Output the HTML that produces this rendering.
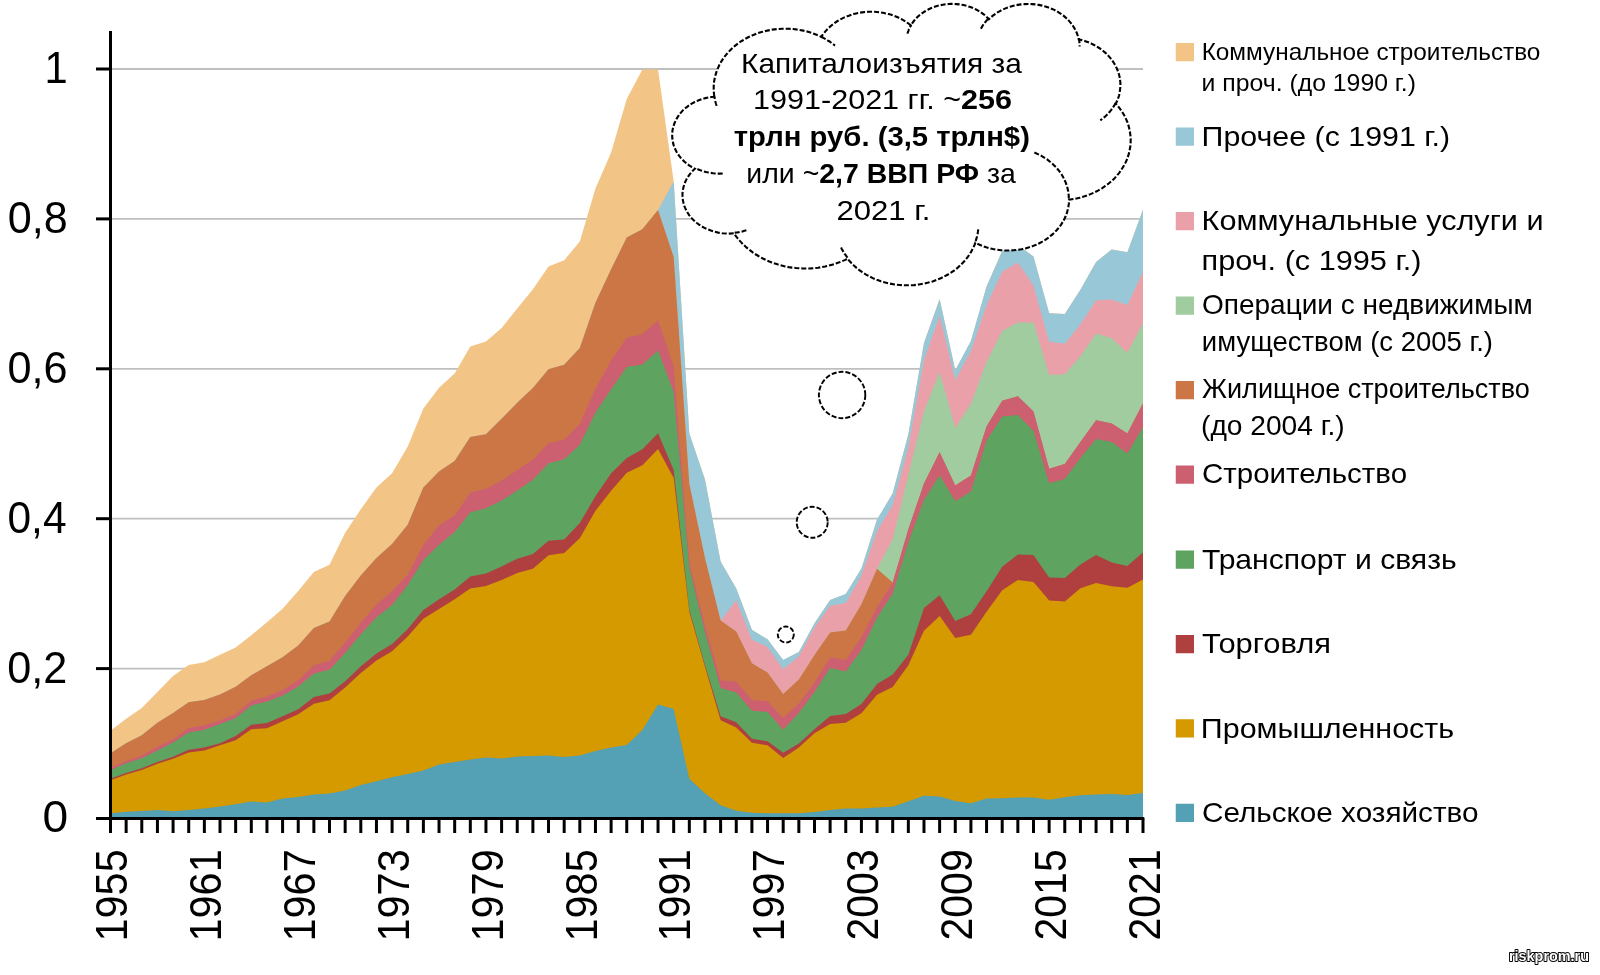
<!DOCTYPE html>
<html><head><meta charset="utf-8"><style>
html,body{margin:0;padding:0;background:#fff;width:1600px;height:975px;overflow:hidden}
svg{display:block;will-change:transform}
</style></head><body>
<svg width="1600" height="975" viewBox="0 0 1600 975">
<line x1="112" y1="668.60" x2="1143" y2="668.60" stroke="#BFBFBF" stroke-width="1.8"/>
<line x1="112" y1="518.70" x2="1143" y2="518.70" stroke="#BFBFBF" stroke-width="1.8"/>
<line x1="112" y1="368.80" x2="1143" y2="368.80" stroke="#BFBFBF" stroke-width="1.8"/>
<line x1="112" y1="218.90" x2="1143" y2="218.90" stroke="#BFBFBF" stroke-width="1.8"/>
<line x1="112" y1="69.00" x2="1143" y2="69.00" stroke="#BFBFBF" stroke-width="1.8"/>
<path d="M110.50,818.50 L110.50,730.80 L126.14,718.70 L141.79,708.00 L157.43,691.90 L173.08,676.00 L188.72,665.00 L204.36,662.20 L220.01,654.70 L235.65,647.40 L251.30,635.20 L266.94,622.20 L282.58,608.70 L298.23,591.00 L313.87,572.00 L329.52,564.80 L345.16,532.70 L360.80,509.20 L376.45,487.60 L392.09,473.30 L407.73,446.60 L423.38,408.50 L439.02,387.80 L454.67,373.60 L470.31,346.60 L485.95,341.60 L501.60,328.00 L517.24,308.50 L532.89,289.30 L548.53,266.60 L564.17,260.20 L579.82,241.50 L595.46,188.60 L611.11,152.50 L626.75,99.00 L642.39,69.50 L658.04,69.50 L673.68,181.50 L689.33,433.50 L704.97,479.50 L720.61,561.50 L736.26,588.50 L751.90,629.80 L767.55,639.30 L783.19,659.90 L798.83,652.00 L814.48,623.20 L830.12,600.10 L845.77,593.90 L861.41,568.50 L877.05,519.60 L892.70,493.30 L908.34,434.20 L923.98,343.00 L939.63,299.00 L955.27,370.30 L970.92,341.00 L986.56,286.50 L1002.20,251.00 L1017.85,245.00 L1033.49,256.50 L1049.14,313.20 L1064.78,314.00 L1080.42,289.70 L1096.07,262.00 L1111.71,249.50 L1127.36,252.30 L1143.00,209.40 L1143.00,818.50 Z" fill="#F2C486"/>
<path d="M110.50,818.50 L110.50,753.30 L126.14,743.20 L141.79,735.30 L157.43,722.80 L173.08,713.00 L188.72,702.20 L204.36,700.00 L220.01,694.60 L235.65,686.80 L251.30,675.30 L266.94,666.20 L282.58,657.20 L298.23,645.50 L313.87,628.00 L329.52,621.40 L345.16,596.00 L360.80,575.60 L376.45,558.00 L392.09,544.00 L407.73,524.70 L423.38,487.40 L439.02,471.50 L454.67,461.00 L470.31,437.00 L485.95,434.20 L501.60,418.80 L517.24,402.70 L532.89,388.00 L548.53,369.30 L564.17,364.80 L579.82,348.00 L595.46,302.70 L611.11,269.30 L626.75,237.60 L642.39,229.20 L658.04,210.10 L673.68,181.50 L689.33,433.50 L704.97,479.50 L720.61,561.50 L736.26,588.50 L751.90,629.80 L767.55,639.30 L783.19,659.90 L798.83,652.00 L814.48,623.20 L830.12,600.10 L845.77,593.90 L861.41,568.50 L877.05,519.60 L892.70,493.30 L908.34,434.20 L923.98,343.00 L939.63,299.00 L955.27,370.30 L970.92,341.00 L986.56,286.50 L1002.20,251.00 L1017.85,245.00 L1033.49,256.50 L1049.14,313.20 L1064.78,314.00 L1080.42,289.70 L1096.07,262.00 L1111.71,249.50 L1127.36,252.30 L1143.00,209.40 L1143.00,818.50 Z" fill="#98C8D8"/>
<path d="M110.50,818.50 L110.50,753.30 L126.14,743.20 L141.79,735.30 L157.43,722.80 L173.08,713.00 L188.72,702.20 L204.36,700.00 L220.01,694.60 L235.65,686.80 L251.30,675.30 L266.94,666.20 L282.58,657.20 L298.23,645.50 L313.87,628.00 L329.52,621.40 L345.16,596.00 L360.80,575.60 L376.45,558.00 L392.09,544.00 L407.73,524.70 L423.38,487.40 L439.02,471.50 L454.67,461.00 L470.31,437.00 L485.95,434.20 L501.60,418.80 L517.24,402.70 L532.89,388.00 L548.53,369.30 L564.17,364.80 L579.82,348.00 L595.46,302.70 L611.11,269.30 L626.75,237.60 L642.39,229.20 L658.04,210.10 L673.68,257.00 L689.33,484.00 L704.97,558.00 L720.61,620.50 L736.26,600.20 L751.90,639.70 L767.55,646.90 L783.19,669.20 L798.83,656.20 L814.48,627.50 L830.12,605.70 L845.77,602.90 L861.41,575.50 L877.05,531.00 L892.70,504.80 L908.34,447.40 L923.98,360.00 L939.63,316.00 L955.27,380.10 L970.92,351.00 L986.56,305.00 L1002.20,271.70 L1017.85,262.60 L1033.49,285.50 L1049.14,341.80 L1064.78,343.70 L1080.42,324.30 L1096.07,300.20 L1111.71,299.40 L1127.36,304.90 L1143.00,271.70 L1143.00,818.50 Z" fill="#EAA0A8"/>
<path d="M110.50,818.50 L110.50,753.30 L126.14,743.20 L141.79,735.30 L157.43,722.80 L173.08,713.00 L188.72,702.20 L204.36,700.00 L220.01,694.60 L235.65,686.80 L251.30,675.30 L266.94,666.20 L282.58,657.20 L298.23,645.50 L313.87,628.00 L329.52,621.40 L345.16,596.00 L360.80,575.60 L376.45,558.00 L392.09,544.00 L407.73,524.70 L423.38,487.40 L439.02,471.50 L454.67,461.00 L470.31,437.00 L485.95,434.20 L501.60,418.80 L517.24,402.70 L532.89,388.00 L548.53,369.30 L564.17,364.80 L579.82,348.00 L595.46,302.70 L611.11,269.30 L626.75,237.60 L642.39,229.20 L658.04,210.10 L673.68,257.00 L689.33,484.00 L704.97,558.00 L720.61,620.50 L736.26,631.50 L751.90,663.20 L767.55,672.50 L783.19,694.00 L798.83,679.50 L814.48,655.00 L830.12,632.50 L845.77,630.50 L861.41,604.30 L877.05,568.80 L892.70,539.30 L908.34,475.30 L923.98,411.30 L939.63,372.00 L955.27,428.00 L970.92,403.80 L986.56,361.90 L1002.20,331.10 L1017.85,322.40 L1033.49,322.40 L1049.14,375.00 L1064.78,374.20 L1080.42,356.20 L1096.07,333.50 L1111.71,338.20 L1127.36,352.80 L1143.00,322.90 L1143.00,818.50 Z" fill="#A0CCA0"/>
<path d="M110.50,818.50 L110.50,753.30 L126.14,743.20 L141.79,735.30 L157.43,722.80 L173.08,713.00 L188.72,702.20 L204.36,700.00 L220.01,694.60 L235.65,686.80 L251.30,675.30 L266.94,666.20 L282.58,657.20 L298.23,645.50 L313.87,628.00 L329.52,621.40 L345.16,596.00 L360.80,575.60 L376.45,558.00 L392.09,544.00 L407.73,524.70 L423.38,487.40 L439.02,471.50 L454.67,461.00 L470.31,437.00 L485.95,434.20 L501.60,418.80 L517.24,402.70 L532.89,388.00 L548.53,369.30 L564.17,364.80 L579.82,348.00 L595.46,302.70 L611.11,269.30 L626.75,237.60 L642.39,229.20 L658.04,210.10 L673.68,257.00 L689.33,484.00 L704.97,558.00 L720.61,620.50 L736.26,631.50 L751.90,663.20 L767.55,672.50 L783.19,694.00 L798.83,679.50 L814.48,655.00 L830.12,632.50 L845.77,630.50 L861.41,604.30 L877.05,568.80 L892.70,582.50 L908.34,529.40 L923.98,483.50 L939.63,452.30 L955.27,485.60 L970.92,475.40 L986.56,426.50 L1002.20,400.80 L1017.85,396.30 L1033.49,411.50 L1049.14,468.80 L1064.78,464.10 L1080.42,442.00 L1096.07,420.20 L1111.71,423.40 L1127.36,433.50 L1143.00,403.20 L1143.00,818.50 Z" fill="#CC7646"/>
<path d="M110.50,818.50 L110.50,767.60 L126.14,761.10 L141.79,755.40 L157.43,746.80 L173.08,739.60 L188.72,728.00 L204.36,725.20 L220.01,720.60 L235.65,714.10 L251.30,700.60 L266.94,696.60 L282.58,689.90 L298.23,680.30 L313.87,665.20 L329.52,660.70 L345.16,642.40 L360.80,622.70 L376.45,604.70 L392.09,591.20 L407.73,574.50 L423.38,545.00 L439.02,525.30 L454.67,515.40 L470.31,492.50 L485.95,488.80 L501.60,480.70 L517.24,470.10 L532.89,459.40 L548.53,443.30 L564.17,439.50 L579.82,424.00 L595.46,388.60 L611.11,360.60 L626.75,337.60 L642.39,334.20 L658.04,320.20 L673.68,366.50 L689.33,562.00 L704.97,625.50 L720.61,680.50 L736.26,681.70 L751.90,700.00 L767.55,701.30 L783.19,718.00 L798.83,703.50 L814.48,682.70 L830.12,657.30 L845.77,659.90 L861.41,637.30 L877.05,607.00 L892.70,582.50 L908.34,529.40 L923.98,483.50 L939.63,452.30 L955.27,485.60 L970.92,475.40 L986.56,426.50 L1002.20,400.80 L1017.85,396.30 L1033.49,411.50 L1049.14,468.80 L1064.78,464.10 L1080.42,442.00 L1096.07,420.20 L1111.71,423.40 L1127.36,433.50 L1143.00,403.20 L1143.00,818.50 Z" fill="#CC6070"/>
<path d="M110.50,818.50 L110.50,770.20 L126.14,763.30 L141.79,758.30 L157.43,750.40 L173.08,742.50 L188.72,732.40 L204.36,729.80 L220.01,724.10 L235.65,718.00 L251.30,705.50 L266.94,701.50 L282.58,695.60 L298.23,686.60 L313.87,673.50 L329.52,669.70 L345.16,653.00 L360.80,634.20 L376.45,617.30 L392.09,605.00 L407.73,585.00 L423.38,560.00 L439.02,544.80 L454.67,532.00 L470.31,512.20 L485.95,508.30 L501.60,500.50 L517.24,490.60 L532.89,479.80 L548.53,463.30 L564.17,459.30 L579.82,444.70 L595.46,412.60 L611.11,389.30 L626.75,366.90 L642.39,364.50 L658.04,350.60 L673.68,392.00 L689.33,568.00 L704.97,632.00 L720.61,688.10 L736.26,692.50 L751.90,710.70 L767.55,712.00 L783.19,729.80 L798.83,713.00 L814.48,692.00 L830.12,668.00 L845.77,671.40 L861.41,650.00 L877.05,617.50 L892.70,593.50 L908.34,542.60 L923.98,499.90 L939.63,475.30 L955.27,501.20 L970.92,491.50 L986.56,440.60 L1002.20,416.60 L1017.85,414.90 L1033.49,431.10 L1049.14,483.20 L1064.78,479.10 L1080.42,458.00 L1096.07,439.00 L1111.71,442.10 L1127.36,453.40 L1143.00,427.00 L1143.00,818.50 Z" fill="#5EA360"/>
<path d="M110.50,818.50 L110.50,778.80 L126.14,773.00 L141.79,768.30 L157.43,761.90 L173.08,756.80 L188.72,749.70 L204.36,747.50 L220.01,743.20 L235.65,736.10 L251.30,724.70 L266.94,722.90 L282.58,716.20 L298.23,709.30 L313.87,697.10 L329.52,693.60 L345.16,681.30 L360.80,666.20 L376.45,653.40 L392.09,643.90 L407.73,629.00 L423.38,610.00 L439.02,599.30 L454.67,589.60 L470.31,576.50 L485.95,573.60 L501.60,566.50 L517.24,558.80 L532.89,554.00 L548.53,540.80 L564.17,539.50 L579.82,523.00 L595.46,496.20 L611.11,473.30 L626.75,457.90 L642.39,449.30 L658.04,433.20 L673.68,470.00 L689.33,610.00 L704.97,665.00 L720.61,716.20 L736.26,722.20 L751.90,738.70 L767.55,741.30 L783.19,752.80 L798.83,743.50 L814.48,729.30 L830.12,716.00 L845.77,714.10 L861.41,704.00 L877.05,684.00 L892.70,674.50 L908.34,654.70 L923.98,608.00 L939.63,595.20 L955.27,621.00 L970.92,614.20 L986.56,591.30 L1002.20,566.70 L1017.85,554.40 L1033.49,555.00 L1049.14,577.50 L1064.78,578.00 L1080.42,564.60 L1096.07,555.00 L1111.71,562.60 L1127.36,566.00 L1143.00,552.30 L1143.00,818.50 Z" fill="#B04040"/>
<path d="M110.50,818.50 L110.50,780.20 L126.14,774.50 L141.79,770.00 L157.43,763.70 L173.08,758.70 L188.72,752.40 L204.36,750.40 L220.01,745.30 L235.65,740.30 L251.30,729.20 L266.94,728.20 L282.58,721.20 L298.23,714.20 L313.87,703.70 L329.52,700.20 L345.16,687.50 L360.80,673.10 L376.45,660.40 L392.09,651.20 L407.73,636.50 L423.38,618.70 L439.02,609.00 L454.67,599.30 L470.31,588.50 L485.95,586.00 L501.60,580.00 L517.24,573.00 L532.89,568.70 L548.53,555.20 L564.17,553.00 L579.82,538.30 L595.46,510.80 L611.11,490.70 L626.75,472.80 L642.39,465.30 L658.04,449.00 L673.68,478.00 L689.33,612.00 L704.97,666.70 L720.61,720.30 L736.26,727.50 L751.90,742.70 L767.55,745.30 L783.19,758.00 L798.83,747.50 L814.48,733.30 L830.12,724.00 L845.77,722.70 L861.41,713.30 L877.05,694.70 L892.70,687.00 L908.34,665.30 L923.98,630.70 L939.63,616.00 L955.27,637.90 L970.92,634.70 L986.56,611.80 L1002.20,590.30 L1017.85,580.00 L1033.49,582.00 L1049.14,600.50 L1064.78,601.50 L1080.42,588.20 L1096.07,583.00 L1111.71,586.20 L1127.36,587.80 L1143.00,579.60 L1143.00,818.50 Z" fill="#D49A00"/>
<path d="M110.50,818.50 L110.50,813.20 L126.14,811.70 L141.79,811.00 L157.43,810.10 L173.08,811.30 L188.72,809.90 L204.36,808.40 L220.01,806.60 L235.65,804.30 L251.30,801.60 L266.94,802.40 L282.58,798.50 L298.23,797.00 L313.87,794.40 L329.52,793.40 L345.16,790.60 L360.80,785.00 L376.45,781.30 L392.09,777.30 L407.73,774.00 L423.38,770.40 L439.02,764.40 L454.67,762.00 L470.31,759.40 L485.95,757.60 L501.60,758.60 L517.24,756.40 L532.89,756.00 L548.53,755.40 L564.17,757.00 L579.82,755.40 L595.46,751.00 L611.11,747.60 L626.75,745.00 L642.39,730.00 L658.04,704.40 L673.68,709.00 L689.33,778.70 L704.97,793.30 L720.61,805.30 L736.26,810.70 L751.90,812.80 L767.55,813.30 L783.19,813.30 L798.83,813.30 L814.48,812.00 L830.12,810.10 L845.77,808.50 L861.41,808.50 L877.05,807.50 L892.70,806.70 L908.34,801.20 L923.98,795.70 L939.63,796.40 L955.27,801.10 L970.92,803.30 L986.56,798.60 L1002.20,798.30 L1017.85,797.50 L1033.49,797.50 L1049.14,799.80 L1064.78,797.30 L1080.42,795.20 L1096.07,794.40 L1111.71,793.90 L1127.36,795.00 L1143.00,793.10 L1143.00,818.50 Z" fill="#54A0B4"/>
<line x1="110.5" y1="31" x2="110.5" y2="820" stroke="#000" stroke-width="3"/>
<line x1="109" y1="818.5" x2="1144.2" y2="818.5" stroke="#000" stroke-width="3"/>
<line x1="96" y1="818.50" x2="111" y2="818.50" stroke="#000" stroke-width="3"/>
<line x1="96" y1="668.60" x2="111" y2="668.60" stroke="#000" stroke-width="3"/>
<line x1="96" y1="518.70" x2="111" y2="518.70" stroke="#000" stroke-width="3"/>
<line x1="96" y1="368.80" x2="111" y2="368.80" stroke="#000" stroke-width="3"/>
<line x1="96" y1="218.90" x2="111" y2="218.90" stroke="#000" stroke-width="3"/>
<line x1="96" y1="69.00" x2="111" y2="69.00" stroke="#000" stroke-width="3"/>
<line x1="110.50" y1="818" x2="110.50" y2="833" stroke="#000" stroke-width="3"/>
<line x1="126.14" y1="818" x2="126.14" y2="833" stroke="#000" stroke-width="3"/>
<line x1="141.79" y1="818" x2="141.79" y2="833" stroke="#000" stroke-width="3"/>
<line x1="157.43" y1="818" x2="157.43" y2="833" stroke="#000" stroke-width="3"/>
<line x1="173.08" y1="818" x2="173.08" y2="833" stroke="#000" stroke-width="3"/>
<line x1="188.72" y1="818" x2="188.72" y2="833" stroke="#000" stroke-width="3"/>
<line x1="204.36" y1="818" x2="204.36" y2="833" stroke="#000" stroke-width="3"/>
<line x1="220.01" y1="818" x2="220.01" y2="833" stroke="#000" stroke-width="3"/>
<line x1="235.65" y1="818" x2="235.65" y2="833" stroke="#000" stroke-width="3"/>
<line x1="251.30" y1="818" x2="251.30" y2="833" stroke="#000" stroke-width="3"/>
<line x1="266.94" y1="818" x2="266.94" y2="833" stroke="#000" stroke-width="3"/>
<line x1="282.58" y1="818" x2="282.58" y2="833" stroke="#000" stroke-width="3"/>
<line x1="298.23" y1="818" x2="298.23" y2="833" stroke="#000" stroke-width="3"/>
<line x1="313.87" y1="818" x2="313.87" y2="833" stroke="#000" stroke-width="3"/>
<line x1="329.52" y1="818" x2="329.52" y2="833" stroke="#000" stroke-width="3"/>
<line x1="345.16" y1="818" x2="345.16" y2="833" stroke="#000" stroke-width="3"/>
<line x1="360.80" y1="818" x2="360.80" y2="833" stroke="#000" stroke-width="3"/>
<line x1="376.45" y1="818" x2="376.45" y2="833" stroke="#000" stroke-width="3"/>
<line x1="392.09" y1="818" x2="392.09" y2="833" stroke="#000" stroke-width="3"/>
<line x1="407.73" y1="818" x2="407.73" y2="833" stroke="#000" stroke-width="3"/>
<line x1="423.38" y1="818" x2="423.38" y2="833" stroke="#000" stroke-width="3"/>
<line x1="439.02" y1="818" x2="439.02" y2="833" stroke="#000" stroke-width="3"/>
<line x1="454.67" y1="818" x2="454.67" y2="833" stroke="#000" stroke-width="3"/>
<line x1="470.31" y1="818" x2="470.31" y2="833" stroke="#000" stroke-width="3"/>
<line x1="485.95" y1="818" x2="485.95" y2="833" stroke="#000" stroke-width="3"/>
<line x1="501.60" y1="818" x2="501.60" y2="833" stroke="#000" stroke-width="3"/>
<line x1="517.24" y1="818" x2="517.24" y2="833" stroke="#000" stroke-width="3"/>
<line x1="532.89" y1="818" x2="532.89" y2="833" stroke="#000" stroke-width="3"/>
<line x1="548.53" y1="818" x2="548.53" y2="833" stroke="#000" stroke-width="3"/>
<line x1="564.17" y1="818" x2="564.17" y2="833" stroke="#000" stroke-width="3"/>
<line x1="579.82" y1="818" x2="579.82" y2="833" stroke="#000" stroke-width="3"/>
<line x1="595.46" y1="818" x2="595.46" y2="833" stroke="#000" stroke-width="3"/>
<line x1="611.11" y1="818" x2="611.11" y2="833" stroke="#000" stroke-width="3"/>
<line x1="626.75" y1="818" x2="626.75" y2="833" stroke="#000" stroke-width="3"/>
<line x1="642.39" y1="818" x2="642.39" y2="833" stroke="#000" stroke-width="3"/>
<line x1="658.04" y1="818" x2="658.04" y2="833" stroke="#000" stroke-width="3"/>
<line x1="673.68" y1="818" x2="673.68" y2="833" stroke="#000" stroke-width="3"/>
<line x1="689.33" y1="818" x2="689.33" y2="833" stroke="#000" stroke-width="3"/>
<line x1="704.97" y1="818" x2="704.97" y2="833" stroke="#000" stroke-width="3"/>
<line x1="720.61" y1="818" x2="720.61" y2="833" stroke="#000" stroke-width="3"/>
<line x1="736.26" y1="818" x2="736.26" y2="833" stroke="#000" stroke-width="3"/>
<line x1="751.90" y1="818" x2="751.90" y2="833" stroke="#000" stroke-width="3"/>
<line x1="767.55" y1="818" x2="767.55" y2="833" stroke="#000" stroke-width="3"/>
<line x1="783.19" y1="818" x2="783.19" y2="833" stroke="#000" stroke-width="3"/>
<line x1="798.83" y1="818" x2="798.83" y2="833" stroke="#000" stroke-width="3"/>
<line x1="814.48" y1="818" x2="814.48" y2="833" stroke="#000" stroke-width="3"/>
<line x1="830.12" y1="818" x2="830.12" y2="833" stroke="#000" stroke-width="3"/>
<line x1="845.77" y1="818" x2="845.77" y2="833" stroke="#000" stroke-width="3"/>
<line x1="861.41" y1="818" x2="861.41" y2="833" stroke="#000" stroke-width="3"/>
<line x1="877.05" y1="818" x2="877.05" y2="833" stroke="#000" stroke-width="3"/>
<line x1="892.70" y1="818" x2="892.70" y2="833" stroke="#000" stroke-width="3"/>
<line x1="908.34" y1="818" x2="908.34" y2="833" stroke="#000" stroke-width="3"/>
<line x1="923.98" y1="818" x2="923.98" y2="833" stroke="#000" stroke-width="3"/>
<line x1="939.63" y1="818" x2="939.63" y2="833" stroke="#000" stroke-width="3"/>
<line x1="955.27" y1="818" x2="955.27" y2="833" stroke="#000" stroke-width="3"/>
<line x1="970.92" y1="818" x2="970.92" y2="833" stroke="#000" stroke-width="3"/>
<line x1="986.56" y1="818" x2="986.56" y2="833" stroke="#000" stroke-width="3"/>
<line x1="1002.20" y1="818" x2="1002.20" y2="833" stroke="#000" stroke-width="3"/>
<line x1="1017.85" y1="818" x2="1017.85" y2="833" stroke="#000" stroke-width="3"/>
<line x1="1033.49" y1="818" x2="1033.49" y2="833" stroke="#000" stroke-width="3"/>
<line x1="1049.14" y1="818" x2="1049.14" y2="833" stroke="#000" stroke-width="3"/>
<line x1="1064.78" y1="818" x2="1064.78" y2="833" stroke="#000" stroke-width="3"/>
<line x1="1080.42" y1="818" x2="1080.42" y2="833" stroke="#000" stroke-width="3"/>
<line x1="1096.07" y1="818" x2="1096.07" y2="833" stroke="#000" stroke-width="3"/>
<line x1="1111.71" y1="818" x2="1111.71" y2="833" stroke="#000" stroke-width="3"/>
<line x1="1127.36" y1="818" x2="1127.36" y2="833" stroke="#000" stroke-width="3"/>
<line x1="1143.00" y1="818" x2="1143.00" y2="833" stroke="#000" stroke-width="3"/>
<path d="M714.3,96.6 L714.0,94.2 L713.8,91.8 L713.7,89.4 L713.7,87.1 L713.8,84.7 L714.0,82.3 L714.4,79.9 L714.9,77.5 L715.5,75.1 L716.2,72.7 L717.1,70.3 L718.1,67.8 L719.2,65.3 L720.5,62.9 L722.0,60.4 L723.7,57.9 L725.6,55.4 L727.7,52.9 L730.0,50.4 L732.5,48.0 L735.3,45.6 L738.4,43.2 L741.7,41.0 L745.3,38.8 L749.2,36.8 L753.4,34.9 L757.8,33.2 L762.4,31.8 L767.3,30.6 L772.3,29.6 L777.4,29.0 L782.7,28.7 L787.9,28.7 L793.1,29.0 L798.3,29.7 L803.3,30.6 L808.1,31.8 L812.8,33.3 L817.2,35.0 L821.3,36.9 L822.2,35.4 L823.3,34.0 L824.4,32.6 L825.6,31.1 L826.9,29.7 L828.3,28.3 L829.8,26.9 L831.4,25.5 L833.1,24.2 L834.9,22.8 L836.8,21.5 L838.9,20.3 L841.0,19.1 L843.3,17.9 L845.7,16.9 L848.2,15.9 L850.8,15.0 L853.5,14.1 L856.2,13.4 L859.1,12.8 L862.0,12.4 L865.0,12.0 L868.0,11.8 L871.0,11.8 L874.0,11.8 L877.0,12.0 L880.0,12.3 L882.9,12.8 L885.8,13.4 L888.6,14.1 L891.3,14.8 L893.9,15.7 L896.4,16.7 L898.8,17.8 L901.1,18.9 L903.2,20.1 L905.3,21.4 L907.2,22.7 L909.1,24.0 L910.8,25.4 L911.6,24.1 L912.5,22.8 L913.5,21.5 L914.5,20.2 L915.7,18.9 L916.9,17.6 L918.3,16.3 L919.7,15.0 L921.3,13.8 L923.0,12.6 L924.7,11.5 L926.7,10.3 L928.7,9.3 L930.8,8.3 L933.1,7.4 L935.4,6.5 L937.9,5.8 L940.4,5.2 L943.0,4.7 L945.7,4.3 L948.4,4.0 L951.1,3.9 L953.8,3.9 L956.6,4.1 L959.3,4.4 L961.9,4.8 L964.5,5.3 L967.0,6.0 L969.4,6.7 L971.8,7.6 L974.0,8.5 L976.1,9.5 L978.1,10.6 L980.0,11.7 L981.7,12.9 L983.4,14.1 L984.9,15.3 L986.3,16.6 L987.7,17.9 L988.9,19.2 L990.7,17.5 L992.6,15.9 L994.7,14.3 L997.0,12.7 L999.4,11.3 L1002.1,9.9 L1004.9,8.6 L1007.8,7.5 L1011.0,6.4 L1014.2,5.6 L1017.6,4.9 L1021.1,4.4 L1024.6,4.1 L1028.2,4.0 L1031.8,4.1 L1035.3,4.4 L1038.8,4.9 L1042.1,5.6 L1045.4,6.5 L1048.5,7.5 L1051.5,8.7 L1054.3,9.9 L1056.9,11.3 L1059.3,12.8 L1061.6,14.3 L1063.7,15.9 L1065.7,17.6 L1067.4,19.2 L1069.0,20.9 L1070.5,22.6 L1071.8,24.3 L1073.0,26.0 L1074.1,27.7 L1075.1,29.4 L1075.9,31.0 L1076.7,32.7 L1077.3,34.4 L1077.9,36.0 L1078.4,37.7 L1078.7,39.3 L1082.1,40.2 L1085.3,41.2 L1088.4,42.3 L1091.4,43.6 L1094.1,45.0 L1096.7,46.5 L1099.2,48.0 L1101.4,49.6 L1103.5,51.3 L1105.5,52.9 L1107.2,54.6 L1108.9,56.4 L1110.4,58.1 L1111.7,59.8 L1113.0,61.6 L1114.1,63.3 L1115.1,65.0 L1116.0,66.8 L1116.8,68.5 L1117.5,70.2 L1118.2,71.9 L1118.7,73.6 L1119.2,75.3 L1119.6,76.9 L1119.9,78.6 L1120.1,80.3 L1120.3,81.9 L1120.4,83.6 L1120.4,85.2 L1120.3,86.9 L1120.2,88.5 L1120.0,90.2 L1119.8,91.8 L1119.5,93.5 L1119.1,95.2 L1118.6,96.9 L1118.0,98.6 L1117.4,100.3 L1116.6,102.0 L1115.8,103.7 L1118.1,106.3 L1120.1,108.9 L1121.9,111.6 L1123.6,114.2 L1125.0,116.8 L1126.2,119.4 L1127.3,122.0 L1128.2,124.6 L1128.9,127.1 L1129.5,129.7 L1130.0,132.2 L1130.3,134.7 L1130.6,137.2 L1130.7,139.7 L1130.6,142.2 L1130.5,144.8 L1130.2,147.3 L1129.7,149.8 L1129.2,152.3 L1128.5,154.9 L1127.7,157.4 L1126.7,160.0 L1125.5,162.6 L1124.2,165.2 L1122.6,167.8 L1120.9,170.5 L1119.0,173.1 L1116.8,175.7 L1114.4,178.4 L1111.7,180.9 L1108.7,183.5 L1105.4,186.0 L1101.9,188.3 L1098.0,190.6 L1093.9,192.7 L1089.4,194.6 L1084.6,196.3 L1079.7,197.7 L1074.4,198.9 L1069.1,199.7 L1069.0,201.6 L1068.9,203.4 L1068.6,205.3 L1068.3,207.2 L1067.9,209.1 L1067.4,211.0 L1066.9,212.9 L1066.2,214.8 L1065.4,216.8 L1064.5,218.7 L1063.5,220.7 L1062.3,222.6 L1061.1,224.6 L1059.7,226.6 L1058.1,228.5 L1056.4,230.5 L1054.5,232.4 L1052.5,234.4 L1050.2,236.2 L1047.8,238.1 L1045.2,239.9 L1042.4,241.6 L1039.3,243.2 L1036.1,244.7 L1032.7,246.1 L1029.1,247.3 L1025.4,248.4 L1021.5,249.2 L1017.5,249.9 L1013.4,250.3 L1009.3,250.5 L1005.1,250.5 L1001.0,250.2 L996.9,249.7 L993.0,249.0 L989.1,248.1 L985.4,247.0 L981.9,245.7 L978.5,244.3 L975.4,242.7 L974.5,245.0 L973.5,247.3 L972.3,249.6 L971.1,251.9 L969.6,254.2 L968.0,256.6 L966.2,258.9 L964.3,261.2 L962.1,263.5 L959.8,265.8 L957.2,268.1 L954.4,270.3 L951.3,272.4 L948.0,274.5 L944.5,276.4 L940.8,278.2 L936.8,279.9 L932.6,281.4 L928.2,282.6 L923.6,283.7 L918.9,284.5 L914.1,285.1 L909.2,285.3 L904.3,285.3 L899.4,285.0 L894.6,284.5 L889.9,283.6 L885.3,282.6 L881.0,281.3 L876.8,279.8 L872.8,278.1 L869.1,276.2 L865.6,274.3 L862.3,272.2 L859.3,270.1 L856.5,267.9 L853.9,265.6 L851.6,263.3 L849.5,261.0 L847.5,258.7 L844.7,260.1 L841.7,261.4 L838.6,262.6 L835.4,263.7 L832.1,264.7 L828.7,265.7 L825.2,266.5 L821.7,267.1 L818.1,267.7 L814.4,268.1 L810.7,268.4 L807.0,268.5 L803.3,268.5 L799.6,268.3 L795.9,268.0 L792.2,267.6 L788.6,267.1 L785.1,266.4 L781.6,265.5 L778.2,264.6 L775.0,263.6 L771.8,262.4 L768.7,261.2 L765.8,259.9 L762.9,258.5 L760.2,257.1 L757.6,255.5 L755.1,254.0 L752.7,252.4 L750.5,250.7 L748.4,249.1 L746.4,247.4 L744.5,245.6 L742.7,243.9 L741.0,242.1 L739.4,240.4 L737.9,238.6 L736.5,236.9 L735.2,235.1 L734.0,233.3 L730.0,233.6 L726.0,233.5 L722.1,233.2 L718.2,232.6 L714.4,231.7 L710.9,230.6 L707.5,229.3 L704.4,227.9 L701.6,226.3 L699.0,224.6 L696.6,222.8 L694.4,220.9 L692.5,219.1 L690.8,217.2 L689.3,215.3 L688.0,213.4 L686.9,211.5 L685.9,209.6 L685.0,207.7 L684.3,205.8 L683.7,204.0 L683.3,202.1 L682.9,200.3 L682.7,198.5 L682.5,196.7 L682.5,194.8 L682.5,193.0 L682.7,191.2 L683.0,189.4 L683.4,187.5 L683.9,185.7 L684.5,183.8 L685.2,182.0 L686.1,180.1 L687.1,178.2 L688.3,176.3 L689.7,174.4 L691.2,172.5 L693.0,170.6 L694.9,168.7 L691.9,167.1 L689.1,165.3 L686.6,163.5 L684.3,161.5 L682.3,159.6 L680.6,157.6 L679.0,155.6 L677.7,153.6 L676.5,151.7 L675.5,149.7 L674.6,147.7 L673.9,145.8 L673.3,143.9 L672.9,142.0 L672.5,140.1 L672.3,138.2 L672.2,136.3 L672.2,134.4 L672.3,132.5 L672.5,130.6 L672.8,128.7 L673.3,126.8 L673.9,124.9 L674.6,123.0 L675.4,121.0 L676.4,119.1 L677.6,117.1 L678.9,115.1 L680.5,113.1 L682.2,111.1 L684.2,109.2 L686.5,107.3 L689.0,105.4 L691.7,103.6 L694.8,102.0 L698.1,100.5 L701.6,99.2 L705.4,98.1 L709.4,97.3 L713.5,96.8 Z" fill="#fff" stroke="#000" stroke-width="2.1" stroke-dasharray="5 2"/>
<path d="M722.7,173.5 L720.3,173.6 L717.9,173.6 L715.4,173.5 L713.1,173.3 L710.7,172.9 L708.4,172.5 L706.1,172.0 L703.9,171.4 L701.8,170.7 L699.7,170.0 L697.8,169.2 L695.9,168.3 M746.4,230.3 L745.4,230.6 L744.5,230.8 L743.6,231.1 L742.6,231.4 L741.7,231.6 L740.7,231.8 L739.7,232.0 L738.7,232.2 L737.7,232.4 L736.7,232.5 L735.7,232.6 L734.6,232.8 M847.5,257.6 L846.7,256.6 L846.0,255.7 L845.4,254.7 L844.7,253.8 L844.1,252.8 L843.5,251.9 L842.9,250.9 L842.4,250.0 L841.8,249.0 L841.3,248.1 L840.9,247.2 L840.4,246.2 M978.2,229.3 L978.1,230.3 L978.0,231.4 L977.8,232.4 L977.7,233.4 L977.5,234.5 L977.2,235.5 L977.0,236.5 L976.7,237.6 L976.4,238.6 L976.1,239.6 L975.8,240.7 L975.4,241.7 M1034.4,152.5 L1041.0,155.6 L1046.8,159.2 L1051.7,163.1 L1055.9,167.1 L1059.3,171.1 L1062.1,175.2 L1064.3,179.3 L1066.0,183.3 L1067.3,187.2 L1068.2,191.2 L1068.7,195.1 L1068.8,199.0 M1115.6,103.0 L1114.8,104.5 L1114.0,105.9 L1113.0,107.4 L1112.0,108.9 L1110.9,110.3 L1109.7,111.8 L1108.4,113.3 L1107.0,114.7 L1105.5,116.2 L1103.8,117.6 L1102.1,119.0 L1100.3,120.4 M1078.8,38.3 L1079.0,39.0 L1079.1,39.7 L1079.2,40.4 L1079.3,41.1 L1079.4,41.8 L1079.5,42.5 L1079.5,43.1 L1079.6,43.8 L1079.6,44.5 L1079.6,45.2 L1079.6,45.9 L1079.6,46.6 M980.9,28.7 L981.4,27.9 L981.9,27.0 L982.4,26.1 L983.0,25.2 L983.6,24.4 L984.2,23.5 L984.9,22.6 L985.6,21.7 L986.3,20.9 L987.1,20.0 L987.9,19.1 L988.8,18.2 M907.4,33.7 L907.7,33.0 L907.9,32.2 L908.1,31.5 L908.4,30.8 L908.7,30.0 L909.0,29.2 L909.3,28.5 L909.6,27.7 L910.0,27.0 L910.4,26.2 L910.8,25.5 L911.3,24.7 M821.2,36.8 L822.6,37.5 L823.8,38.1 L825.1,38.8 L826.3,39.5 L827.5,40.3 L828.7,41.0 L829.8,41.7 L830.9,42.5 L832.0,43.3 L833.0,44.0 L834.0,44.8 L835.0,45.6 M716.7,105.8 L716.4,105.0 L716.2,104.3 L715.9,103.5 L715.7,102.7 L715.5,102.0 L715.3,101.2 L715.1,100.4 L714.9,99.6 L714.7,98.9 L714.6,98.1 L714.4,97.3 L714.3,96.6 " fill="none" stroke="#000" stroke-width="2.1" stroke-dasharray="5 2"/>
<circle cx="842.1" cy="395.0" r="23.2" fill="#fff" stroke="#000" stroke-width="1.9" stroke-dasharray="5 2"/>
<circle cx="812.2" cy="522.3" r="15.5" fill="#fff" stroke="#000" stroke-width="1.9" stroke-dasharray="5 2"/>
<circle cx="785.8" cy="634.5" r="8.0" fill="#fff" stroke="#000" stroke-width="1.9" stroke-dasharray="5 2"/>
<rect x="1175.75" y="43.00" width="18.25" height="18.25" fill="#F2C486"/>
<rect x="1175.75" y="127.50" width="18.25" height="18.25" fill="#98C8D8"/>
<rect x="1175.75" y="212.00" width="18.25" height="18.25" fill="#EAA0A8"/>
<rect x="1175.75" y="296.50" width="18.25" height="18.25" fill="#A0CCA0"/>
<rect x="1175.75" y="381.00" width="18.25" height="18.25" fill="#CC7646"/>
<rect x="1175.75" y="465.50" width="18.25" height="18.25" fill="#CC6070"/>
<rect x="1175.75" y="550.50" width="18.25" height="18.25" fill="#5EA360"/>
<rect x="1175.75" y="635.00" width="18.25" height="18.25" fill="#B04040"/>
<rect x="1175.75" y="719.25" width="18.25" height="18.25" fill="#D49A00"/>
<rect x="1175.75" y="803.75" width="18.25" height="18.25" fill="#54A0B4"/>
<text transform="matrix(0.9474 0 0 1 44.56 82.60)" font-family="Liberation Sans, sans-serif" font-size="44" font-weight="400">1</text>
<text transform="matrix(0.9807 0 0 1 7.74 232.80)" font-family="Liberation Sans, sans-serif" font-size="44" font-weight="400">0,8</text>
<text transform="matrix(0.9825 0 0 1 7.54 382.70)" font-family="Liberation Sans, sans-serif" font-size="44" font-weight="400">0,6</text>
<text transform="matrix(0.9655 0 0 1 7.47 532.60)" font-family="Liberation Sans, sans-serif" font-size="44" font-weight="400">0,4</text>
<text transform="matrix(0.9825 0 0 1 7.24 682.60)" font-family="Liberation Sans, sans-serif" font-size="44" font-weight="400">0,2</text>
<text transform="matrix(1.0476 0 0 1 42.60 831.80)" font-family="Liberation Sans, sans-serif" font-size="44" font-weight="400">0</text>
<text transform="matrix(0 -0.9430 1 0 127.30 941.53)" font-family="Liberation Sans, sans-serif" font-size="44" font-weight="400">1955</text>
<text transform="matrix(0 -0.9430 1 0 221.16 941.53)" font-family="Liberation Sans, sans-serif" font-size="44" font-weight="400">1961</text>
<text transform="matrix(0 -0.9430 1 0 315.03 941.53)" font-family="Liberation Sans, sans-serif" font-size="44" font-weight="400">1967</text>
<text transform="matrix(0 -0.9430 1 0 408.89 941.53)" font-family="Liberation Sans, sans-serif" font-size="44" font-weight="400">1973</text>
<text transform="matrix(0 -0.9430 1 0 502.75 941.53)" font-family="Liberation Sans, sans-serif" font-size="44" font-weight="400">1979</text>
<text transform="matrix(0 -0.9430 1 0 596.62 941.53)" font-family="Liberation Sans, sans-serif" font-size="44" font-weight="400">1985</text>
<text transform="matrix(0 -0.9430 1 0 690.48 941.53)" font-family="Liberation Sans, sans-serif" font-size="44" font-weight="400">1991</text>
<text transform="matrix(0 -0.9430 1 0 784.35 941.53)" font-family="Liberation Sans, sans-serif" font-size="44" font-weight="400">1997</text>
<text transform="matrix(0 -0.9330 1 0 878.21 940.57)" font-family="Liberation Sans, sans-serif" font-size="44" font-weight="400">2003</text>
<text transform="matrix(0 -0.9330 1 0 972.07 940.57)" font-family="Liberation Sans, sans-serif" font-size="44" font-weight="400">2009</text>
<text transform="matrix(0 -0.9330 1 0 1065.94 940.57)" font-family="Liberation Sans, sans-serif" font-size="44" font-weight="400">2015</text>
<text transform="matrix(0 -0.9330 1 0 1159.80 940.57)" font-family="Liberation Sans, sans-serif" font-size="44" font-weight="400">2021</text>
<text transform="matrix(1.0667 0 0 1 741.07 73.30)" font-family="Liberation Sans, sans-serif" font-size="28" font-weight="400">Капиталоизъятия за</text>
<text transform="matrix(1.0915 0 0 1 753.02 109.20)" font-family="Liberation Sans, sans-serif" font-size="28" font-weight="400">1991-2021 гг. ~<tspan font-weight="bold">256</tspan></text>
<text transform="matrix(1.0448 0 0 1 733.76 146.20)" font-family="Liberation Sans, sans-serif" font-size="28" font-weight="400"><tspan font-weight="bold">трлн руб. (3,5 трлн$)</tspan></text>
<text transform="matrix(1.0167 0 0 1 746.37 183.00)" font-family="Liberation Sans, sans-serif" font-size="28" font-weight="400">или ~<tspan font-weight="bold">2,7 ВВП РФ</tspan> за</text>
<text transform="matrix(1.1123 0 0 1 836.39 219.80)" font-family="Liberation Sans, sans-serif" font-size="28" font-weight="400">2021 г.</text>
<text transform="matrix(1.0591 0 0 1 1201.63 59.50)" font-family="Liberation Sans, sans-serif" font-size="23" font-weight="400">Коммунальное строительство</text>
<text transform="matrix(1.0778 0 0 1 1201.59 91.25)" font-family="Liberation Sans, sans-serif" font-size="23" font-weight="400">и проч. (до 1990 г.)</text>
<text transform="matrix(1.0652 0 0 1 1201.62 145.75)" font-family="Liberation Sans, sans-serif" font-size="28.5" font-weight="400">Прочее (с 1991 г.)</text>
<text transform="matrix(1.0738 0 0 1 1201.60 229.50)" font-family="Liberation Sans, sans-serif" font-size="28.5" font-weight="400">Коммунальные услуги и</text>
<text transform="matrix(1.0759 0 0 1 1201.60 269.50)" font-family="Liberation Sans, sans-serif" font-size="28.5" font-weight="400">проч. (с 1995 г.)</text>
<text transform="matrix(0.9828 0 0 1 1202.02 313.75)" font-family="Liberation Sans, sans-serif" font-size="28.5" font-weight="400">Операции с недвижимым</text>
<text transform="matrix(0.9648 0 0 1 1201.82 350.50)" font-family="Liberation Sans, sans-serif" font-size="28.5" font-weight="400">имуществом (с 2005 г.)</text>
<text transform="matrix(0.9491 0 0 1 1202.05 398.00)" font-family="Liberation Sans, sans-serif" font-size="28.5" font-weight="400">Жилищное строительство</text>
<text transform="matrix(0.9877 0 0 1 1201.02 435.00)" font-family="Liberation Sans, sans-serif" font-size="28.5" font-weight="400">(до 2004 г.)</text>
<text transform="matrix(1.0344 0 0 1 1201.97 483.25)" font-family="Liberation Sans, sans-serif" font-size="28.5" font-weight="400">Строительство</text>
<text transform="matrix(1.0565 0 0 1 1201.94 568.75)" font-family="Liberation Sans, sans-serif" font-size="28.5" font-weight="400">Транспорт и связь</text>
<text transform="matrix(1.0841 0 0 1 1201.92 653.00)" font-family="Liberation Sans, sans-serif" font-size="28.5" font-weight="400">Торговля</text>
<text transform="matrix(1.0684 0 0 1 1200.86 738.00)" font-family="Liberation Sans, sans-serif" font-size="28.5" font-weight="400">Промышленность</text>
<text transform="matrix(1.0417 0 0 1 1201.96 821.75)" font-family="Liberation Sans, sans-serif" font-size="28.5" font-weight="400">Сельское хозяйство</text>
<text transform="matrix(0.9610 0 0 1 1508.94 961.3)" font-family="Liberation Sans, sans-serif" font-size="15" font-weight="700" fill="#fff" stroke="#000" stroke-width="2" paint-order="stroke" stroke-linejoin="round">riskprom.ru</text>
</svg>
</body></html>
